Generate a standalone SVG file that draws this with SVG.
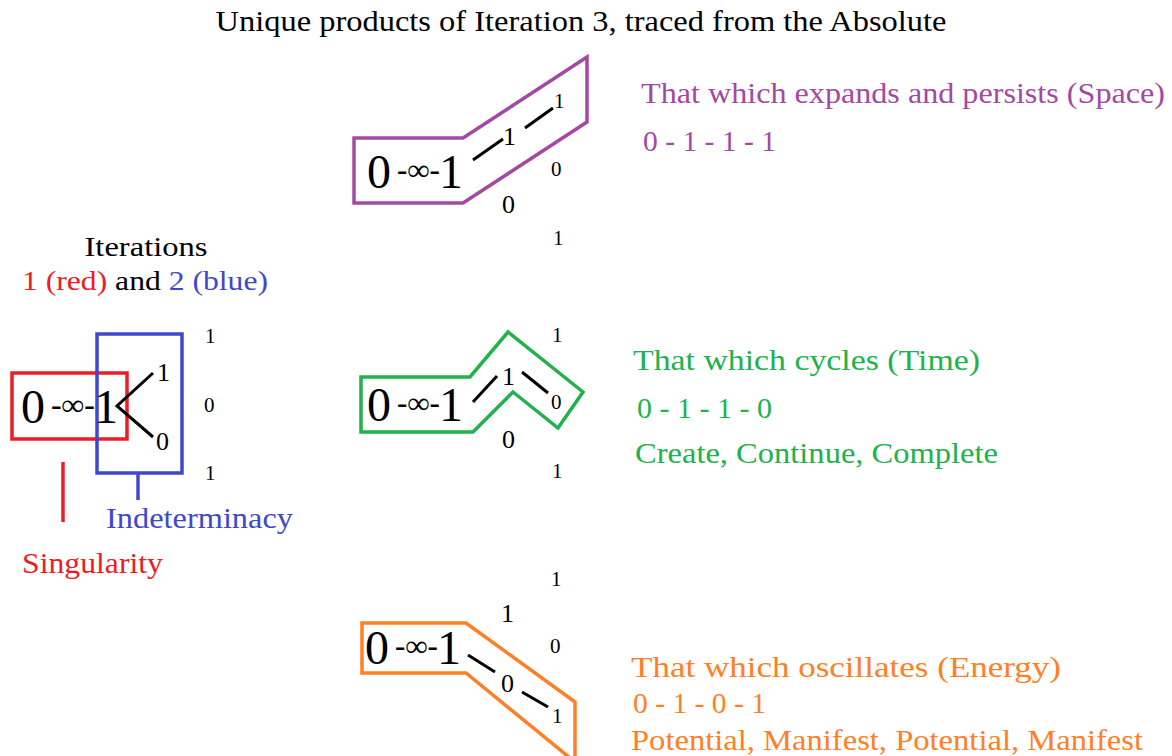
<svg xmlns="http://www.w3.org/2000/svg" width="1172" height="756" viewBox="0 0 1172 756">
<style>
text{font-family:"Liberation Serif","Times New Roman",serif;fill:#000}
.big{font-size:48px}
.mid{font-size:30px}
.sm{font-size:21px}
.md{font-size:26px}
.it{font-size:27px}
.lbl{font-size:30px}
.ln{stroke:#000;stroke-width:3;fill:none}
.purple{fill:#A349A4}
.green{fill:#22B14C}
.orange{fill:#FF7F27}
.red{fill:#ED1C24}
.blue{fill:#3F48CC}
</style>
<rect width="1172" height="756" fill="#fff"/>
<text x="581" y="31" font-size="29" text-anchor="middle" textLength="731" lengthAdjust="spacingAndGlyphs">Unique products of Iteration 3, traced from the Absolute</text>

<g id="iterations">
<text x="146" y="256" class="it" text-anchor="middle" textLength="123" lengthAdjust="spacingAndGlyphs">Iterations</text>
<text x="22" y="290" class="it" textLength="246" lengthAdjust="spacingAndGlyphs"><tspan class="red">1 (red)</tspan> and <tspan class="blue">2 (blue)</tspan></text>
<rect x="12" y="373" width="115" height="66" fill="none" stroke="#ED1C24" stroke-width="3.5"/>
<rect x="97" y="334" width="85" height="139" fill="none" stroke="#3F48CC" stroke-width="3.5"/>
<text x="21" y="423" class="big">0</text>
<text x="51" y="415" class="mid" font-weight="bold" textLength="44" lengthAdjust="spacingAndGlyphs">-∞-</text>
<text x="94" y="423" class="big">1</text>
<path class="ln" d="M153,373 L117,406 L153,437"/>
<text x="157" y="381" class="md">1</text>
<text x="156" y="450" class="md">0</text>
<text x="205" y="343" class="sm">1</text>
<text x="204" y="412" class="sm">0</text>
<text x="205" y="480" class="sm">1</text>
</g>

<g id="singularity">
<line x1="63" y1="462" x2="63" y2="522" stroke="#ED1C24" stroke-width="3.5"/>
<text x="22" y="573" class="lbl red" textLength="141" lengthAdjust="spacingAndGlyphs">Singularity</text>
</g>
<g id="indeterminacy">
<line x1="138" y1="473" x2="138" y2="500" stroke="#3F48CC" stroke-width="3.5"/>
<text x="106" y="528" class="lbl blue" textLength="187" lengthAdjust="spacingAndGlyphs">Indeterminacy</text>
</g>

<g id="space">
<polygon points="354,138 463,138 587,57 587,122 463,203 354,203" fill="none" stroke="#A349A4" stroke-width="3.5"/>
<text x="367" y="188" class="big">0</text>
<text x="397" y="180" class="mid" font-weight="bold" textLength="43" lengthAdjust="spacingAndGlyphs">-∞-</text>
<text x="439" y="188" class="big">1</text>
<path class="ln" d="M473,160 L503,139 M525,128 L553,108"/>
<text x="503" y="145" class="md">1</text>
<text x="554" y="108" class="sm">1</text>
<text x="551" y="176" class="sm">0</text>
<text x="502" y="213" class="md">0</text>
<text x="553" y="245" class="sm">1</text>
<text x="641" y="103" class="lbl purple" textLength="524" lengthAdjust="spacingAndGlyphs">That which expands and persists (Space)</text>
<text x="643" y="151" class="lbl purple" textLength="133" lengthAdjust="spacingAndGlyphs">0 - 1 - 1 - 1</text>
</g>

<g id="time">
<polygon points="361,377 470,377 508,332 583,392 558,428 513,392 473,432 361,432" fill="none" stroke="#22B14C" stroke-width="3.5"/>
<text x="367" y="421" class="big">0</text>
<text x="397" y="413" class="mid" font-weight="bold" textLength="43" lengthAdjust="spacingAndGlyphs">-∞-</text>
<text x="439" y="421" class="big">1</text>
<path class="ln" d="M473,402 L497,376 M522,372 L548,393"/>
<text x="502" y="385" class="md">1</text>
<text x="551" y="409" class="sm">0</text>
<text x="502" y="448" class="md">0</text>
<text x="552" y="342" class="sm">1</text>
<text x="552" y="478" class="sm">1</text>
<text x="633" y="370" class="lbl green" textLength="347" lengthAdjust="spacingAndGlyphs">That which cycles (Time)</text>
<text x="637" y="418" class="lbl green" textLength="135" lengthAdjust="spacingAndGlyphs">0 - 1 - 1 - 0</text>
<text x="635" y="463" class="lbl green" textLength="363" lengthAdjust="spacingAndGlyphs">Create, Continue, Complete</text>
</g>

<g id="energy">
<polygon points="362,623 466,623 575,702 575,762 466,673 362,673" fill="none" stroke="#FF7F27" stroke-width="3.5"/>
<text x="365" y="664" class="big">0</text>
<text x="395" y="656" class="mid" font-weight="bold" textLength="43" lengthAdjust="spacingAndGlyphs">-∞-</text>
<text x="437" y="664" class="big">1</text>
<path class="ln" d="M468,655 L495,672 M522,692 L548,707"/>
<text x="501" y="692" class="md">0</text>
<text x="552" y="723" class="sm">1</text>
<text x="501" y="622" class="md">1</text>
<text x="551" y="586" class="sm">1</text>
<text x="550" y="653" class="sm">0</text>
<text x="631" y="677" class="lbl orange" textLength="430" lengthAdjust="spacingAndGlyphs">That which oscillates (Energy)</text>
<text x="633" y="713" class="lbl orange" textLength="133" lengthAdjust="spacingAndGlyphs">0 - 1 - 0 - 1</text>
<text x="631" y="750" class="lbl orange" textLength="512" lengthAdjust="spacingAndGlyphs">Potential, Manifest, Potential, Manifest</text>
</g>
</svg>
